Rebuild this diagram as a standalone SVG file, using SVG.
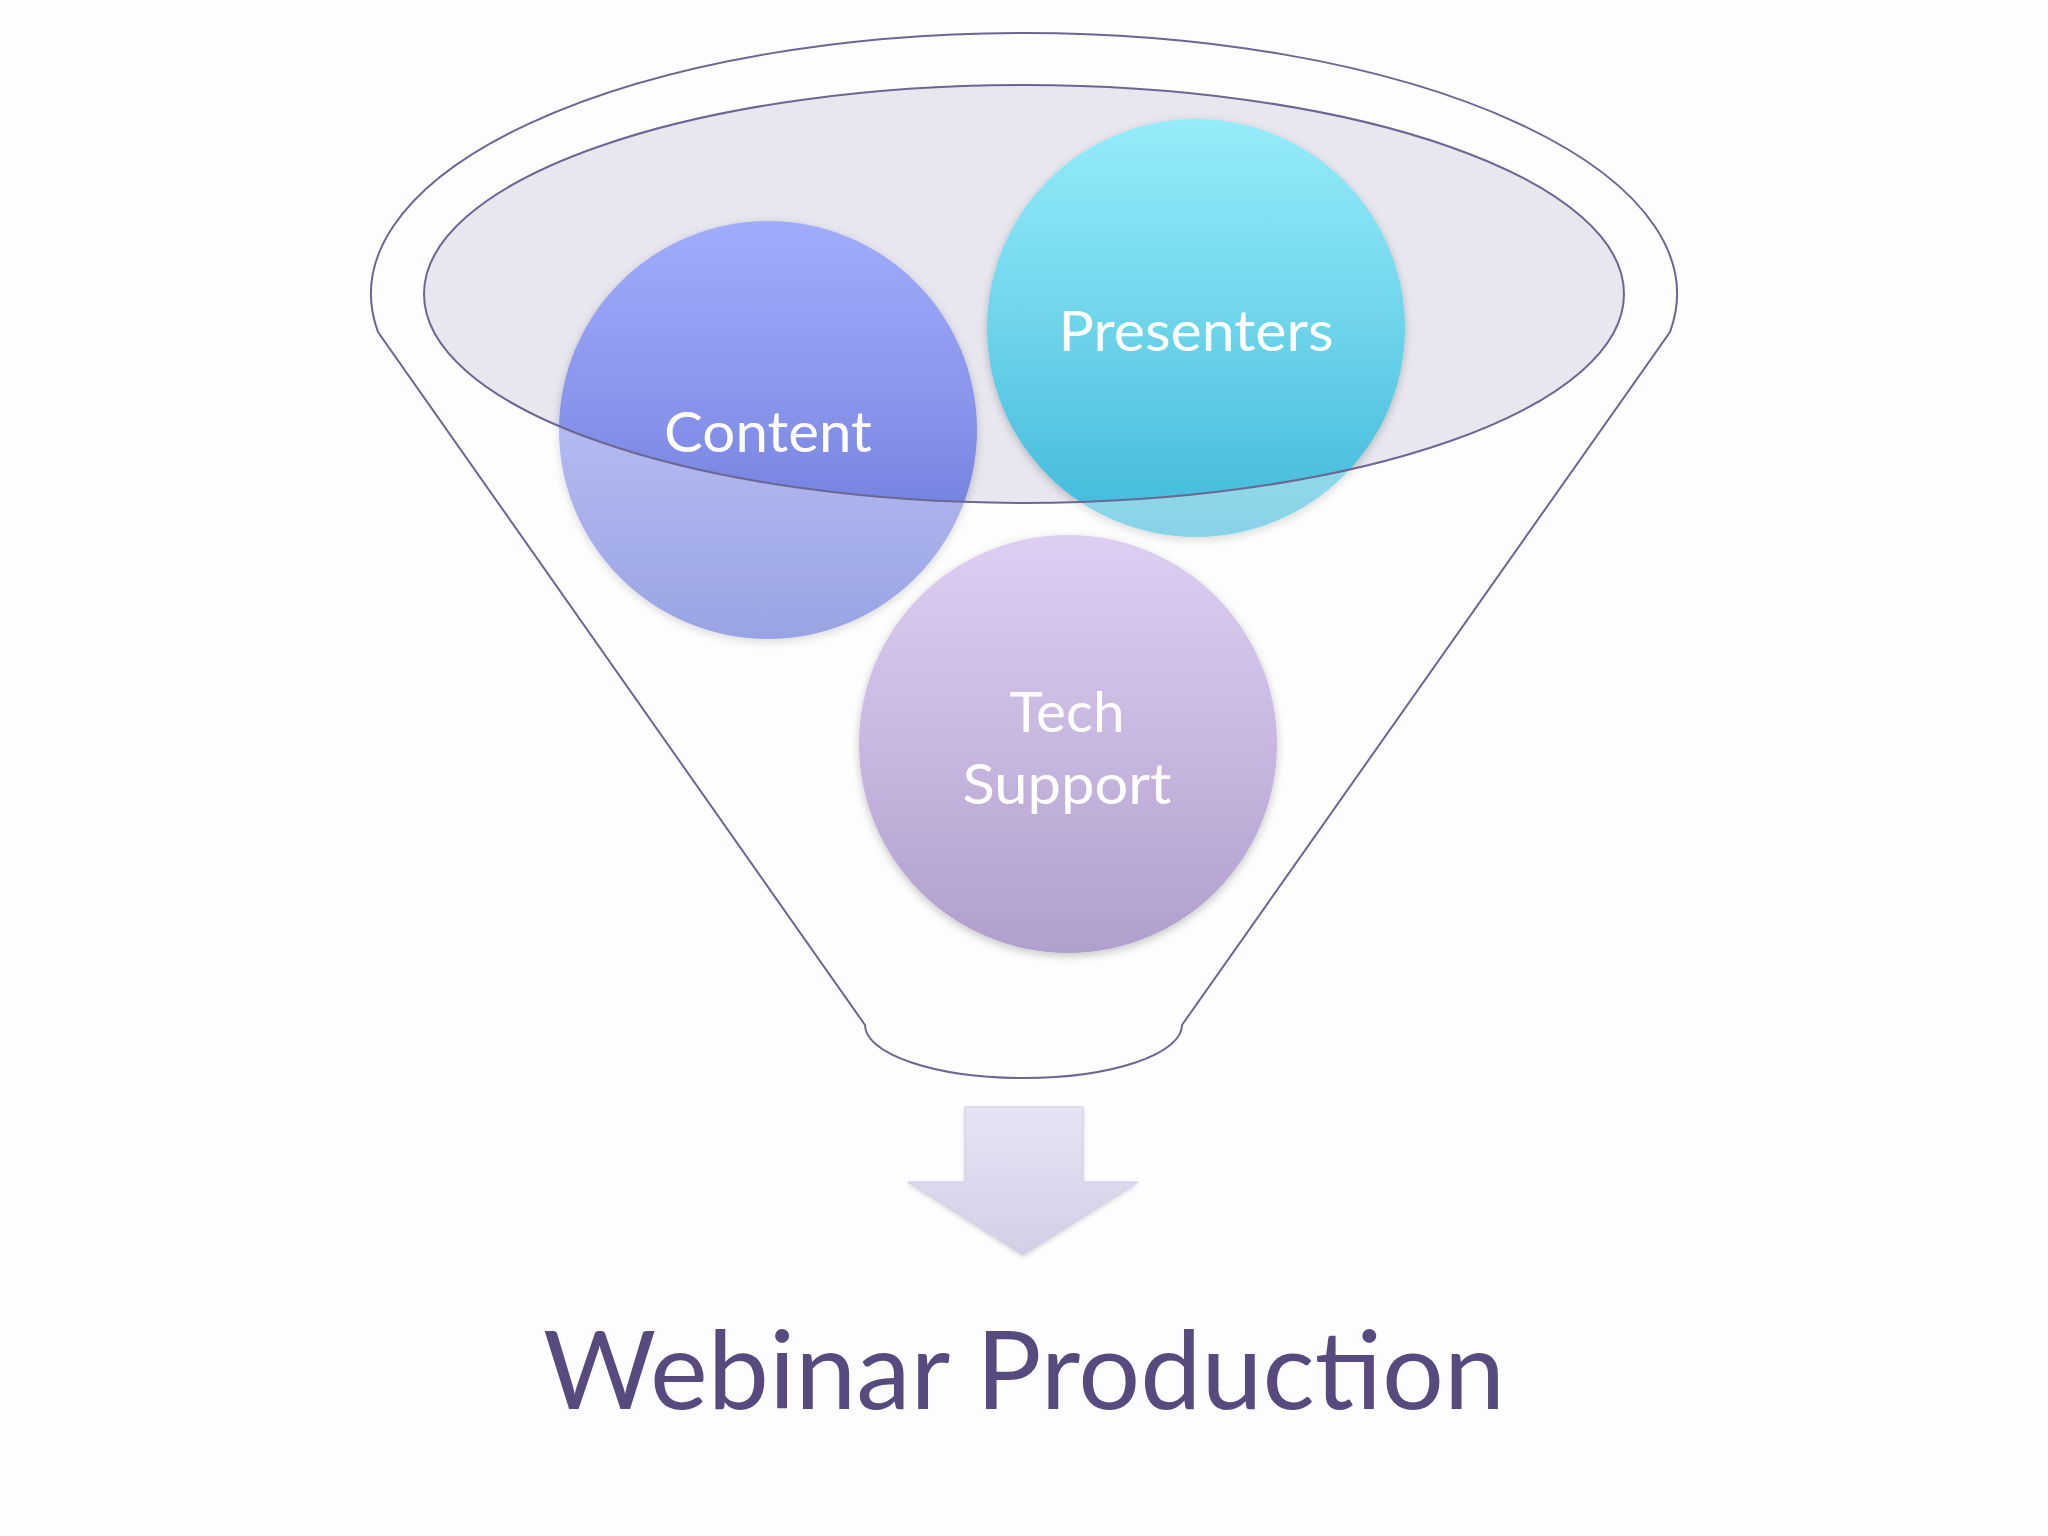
<svg xmlns="http://www.w3.org/2000/svg" width="2048" height="1536" viewBox="0 0 2048 1536">
  <defs>
    <linearGradient id="gContent" x1="0" y1="0" x2="0" y2="1">
      <stop offset="0" stop-color="#a2acfc"/>
      <stop offset="0.5" stop-color="#8590e8"/>
      <stop offset="1" stop-color="#5c6cd2"/>
    </linearGradient>
    <linearGradient id="gPresenters" x1="0" y1="0" x2="0" y2="1">
      <stop offset="0" stop-color="#96ecfa"/>
      <stop offset="0.5" stop-color="#6dd4ea"/>
      <stop offset="1" stop-color="#3fb8da"/>
    </linearGradient>
    <linearGradient id="gTech" x1="0" y1="0" x2="0" y2="1">
      <stop offset="0" stop-color="#ddcef2"/>
      <stop offset="0.5" stop-color="#c8b7e0"/>
      <stop offset="1" stop-color="#b09ecc"/>
    </linearGradient>
    <linearGradient id="gArrow" x1="0" y1="0" x2="0" y2="1">
      <stop offset="0" stop-color="#e5e3f5"/>
      <stop offset="1" stop-color="#d3cfe6"/>
    </linearGradient>
    <filter id="shadow" x="-20%" y="-20%" width="140%" height="140%">
      <feDropShadow dx="0" dy="3" stdDeviation="4" flood-color="#000" flood-opacity="0.22"/>
    </filter>
    <filter id="shadowSmall" x="-20%" y="-20%" width="140%" height="140%">
      <feDropShadow dx="0" dy="2" stdDeviation="2" flood-color="#000" flood-opacity="0.15"/>
    </filter>
    <style>
      .rim { fill: none; stroke: #6c6692; stroke-width: 2; }
      .label { font-family: Lato, "Open Sans", "Liberation Sans", sans-serif; font-size: 56px; fill: #ffffff; text-anchor: middle; }
      .title { font-family: Lato, "Open Sans", "Liberation Sans", sans-serif; font-size: 109px; fill: #564a7e; text-anchor: middle; }
    </style>
  </defs>

  <rect x="0" y="0" width="2048" height="1536" fill="#fdfcfe"/>

  <g id="funnel-base">
    <ellipse cx="1024" cy="294" rx="600" ry="209" fill="#e8e6ee"/>
  </g>

  <g id="node-content" filter="url(#shadow)">
    <circle cx="768" cy="430" r="209" fill="url(#gContent)"/>
  </g>
  <g id="node-presenters" filter="url(#shadow)">
    <circle cx="1196" cy="328" r="209" fill="url(#gPresenters)"/>
  </g>

  <g id="funnel-overlay">
    <path d="M378 332 A653 261 0 1 1 1670 332 L1182 1025 A158.5 53 0 0 1 865 1025 Z M424 294 A600 209 0 1 0 1624 294 A600 209 0 1 0 424 294 Z" fill="#ffffff" fill-opacity="0.38" fill-rule="evenodd"/>
  </g>

  <g id="node-techsupport" filter="url(#shadow)">
    <circle cx="1068" cy="744" r="209" fill="url(#gTech)"/>
  </g>

  <g id="funnel-outline">
    <path class="rim" d="M378 332 A653 261 0 1 1 1670 332 L1182 1025 A158.5 53 0 0 1 865 1025 Z"/>
    <ellipse class="rim" cx="1024" cy="294" rx="600" ry="209" stroke-width="1.6"/>
  </g>

  <g id="labels">
    <text class="label" x="768" y="452" textLength="208" lengthAdjust="spacingAndGlyphs">Content</text>
    <text class="label" x="1196" y="351" textLength="275" lengthAdjust="spacingAndGlyphs">Presenters</text>
    <text class="label" x="1067" y="732" textLength="115" lengthAdjust="spacingAndGlyphs">Tech</text>
    <text class="label" x="1067" y="804" textLength="209" lengthAdjust="spacingAndGlyphs">Support</text>
  </g>

  <g id="connectors">
    <path d="M965 1107 L1083 1107 L1083 1182 L1138 1182 L1023 1255 L908 1182 L965 1182 Z" fill="url(#gArrow)" stroke="#cfcbe0" stroke-width="1" filter="url(#shadowSmall)"/>
  </g>

  <g id="title">
    <text class="title" x="1024" y="1409" textLength="962" lengthAdjust="spacingAndGlyphs">Webinar Production</text>
  </g>
</svg>
